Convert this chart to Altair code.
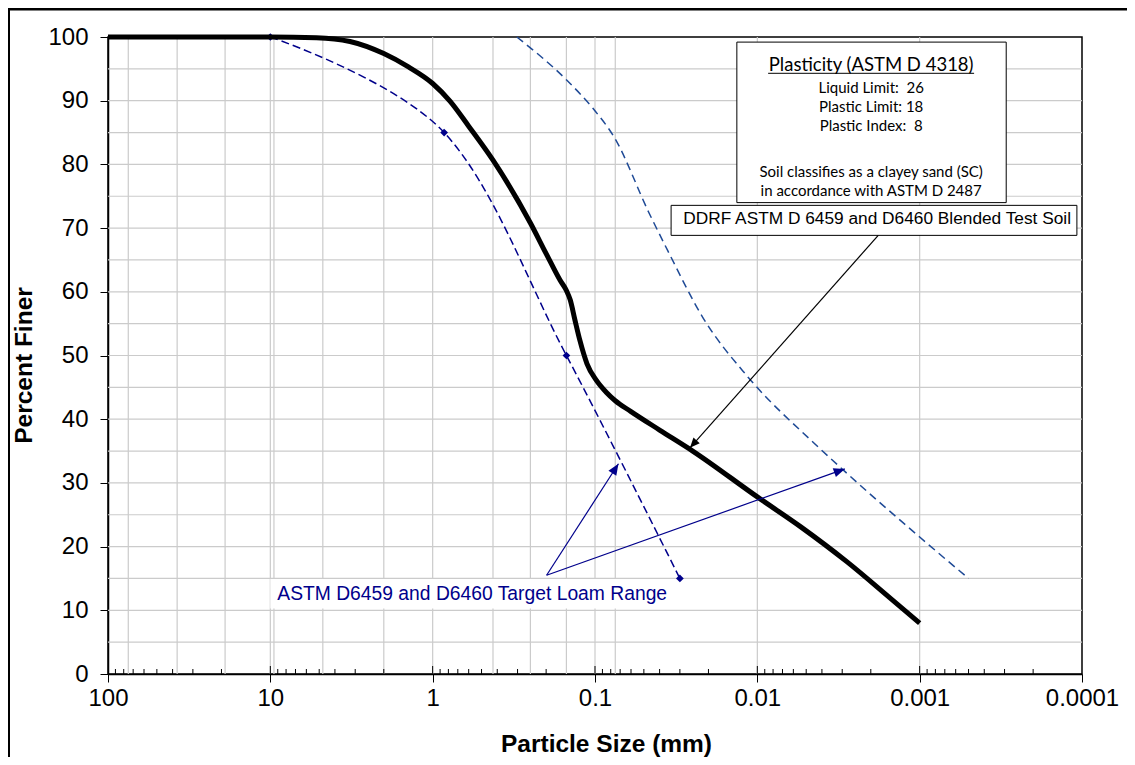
import math
import altair as alt
import pandas as pd

# ---------------- data ----------------
# Blended test soil gradation (particle size mm, percent finer)
BLEND_SIZE = [100, 10, 5.2, 3.23, 2.0, 1.41, 1.0, 0.78, 0.6, 0.426, 0.25, 0.2,
              0.164, 0.15, 0.142, 0.133, 0.124, 0.112, 0.098, 0.085, 0.075, 0.06,
              0.04, 0.025, 0.01, 0.0054, 0.0028, 0.0015, 0.001]
BLEND_PCT = [100, 100, 99.9, 99.3, 97.4, 95.3, 92.7, 89.9, 86.0, 80.7, 70.8, 66.0,
             61.8, 60.2, 58.7, 55.6, 52.4, 48.7, 46.1, 44.2, 42.9, 41.2,
             38.3, 35.0, 27.8, 23.1, 17.6, 11.8, 8.0]

# Target loam range - lower bound (with markers)
LOWER_SIZE = [10, 0.85, 0.15, 0.03]
LOWER_PCT = [100, 85, 50, 15]

# Target loam range - upper bound
UPPER_SIZE = [0.303, 0.149, 0.103, 0.0763, 0.0463, 0.0357, 0.0217, 0.0114,
              0.0045, 0.00295, 0.001, 0.0005]
UPPER_PCT = [100, 93.2, 88.8, 84.3, 72.3, 66.5, 56.0, 46.6,
             36.3, 32.0, 21.5, 15.0]

# Axes
X_TICKS = [100, 10, 1, 0.1, 0.01, 0.001, 0.0001]
Y_TICKS = [0, 10, 20, 30, 40, 50, 60, 70, 80, 90, 100]
X_MINOR = [m * 10 ** e for e in range(-4, 2) for m in range(2, 10)]
X_INNER_MAJOR = [10, 1, 0.1, 0.01, 0.001]
GRID_SIZES = [75, 37.5, 19, 10, 9.5, 4.75, 2.0, 1, 0.425, 0.25, 0.15, 0.1,
              0.075, 0.01, 0.001]
GRID_PCT = [5, 10, 15, 20, 25, 30, 35, 40, 45, 50, 55, 60, 65, 70, 75, 80, 85, 90, 95]

# Annotation texts
NB = "\u00a0"
PLAST_TITLE = "Plasticity (ASTM D 4318)"
PLAST_LINES = ["Liquid Limit:" + NB + " 26", "Plastic Limit: 18",
               "Plastic Index:" + NB + " 8",
               "Soil classifies as a clayey sand (SC)",
               "in accordance with ASTM D 2487"]
BLEND_LABEL = "DDRF ASTM D 6459 and D6460 Blended Test Soil"
RANGE_LABEL = "ASTM D6459 and D6460 Target Loam Range"

# ---------------- layout / style ----------------
W, H = 974, 637
GRID = "#cbcbcb"
NAVY = "#00008b"
UPPER_BLUE = "#1f4a96"
ARIAL = "Liberation Sans"
CALIBRI = "Lato"

xs = alt.Scale(type="log", domain=[0.0001, 100], reverse=True, nice=False)
ys = alt.Scale(domain=[0, 100], nice=False)

x_axis = alt.Axis(values=X_TICKS, labelExpr="format(datum.value, '~g')",
                  grid=False, tickSize=8, tickColor="black", tickWidth=1,
                  domainColor="black", domainWidth=1.5, labelFont=ARIAL,
                  labelFontSize=24, labelColor="black", labelPadding=4,
                  labelOverlap=False, labelFlush=False,
                  title="Particle Size (mm)", titleFont=ARIAL, titleFontSize=24.5,
                  titleFontWeight="bold", titleColor="black", titleX=498,
                  titleY=70, titleAlign="center", titleBaseline="middle")
y_axis = alt.Axis(values=Y_TICKS, grid=False, tickSize=8, tickColor="black",
                  tickWidth=1, domainColor="black", domainWidth=1.5,
                  labelFont=ARIAL, labelFontSize=24, labelColor="black",
                  labelPadding=12, labelOverlap=False, labelFlush=False,
                  title="Percent Finer", titleFont=ARIAL, titleFontSize=24.5,
                  titleFontWeight="bold", titleColor="black", titleX=-84,
                  titleY=328, titleAngle=270, titleAlign="center",
                  titleBaseline="middle")


def X(field="size"):
    return alt.X(f"{field}:Q", scale=xs, axis=x_axis)


def Y(field="pct"):
    return alt.Y(f"{field}:Q", scale=ys, axis=y_axis)


def px(s):
    return (2 - math.log10(s)) / 6 * W


def py(p):
    return H * (1 - p / 100)


def head_angle(s0, p0, s1, p1):
    dx = px(s1) - px(s0)
    dy = py(p1) - py(p0)
    return (math.degrees(math.atan2(dx, -dy)) + 360) % 360


# gridlines
hgrid = alt.Chart(pd.DataFrame({"pct": GRID_PCT})).mark_rule(
    color=GRID, strokeWidth=1.2).encode(y=Y())
vgrid = alt.Chart(pd.DataFrame({"size": GRID_SIZES})).mark_rule(
    color=GRID, strokeWidth=1.2).encode(x=X())

# inward x ticks
minor_ticks = alt.Chart(pd.DataFrame({"size": X_MINOR})).mark_rule(
    color="black", strokeWidth=1).encode(x=X(), y=alt.value(H), y2=alt.value(H - 5))
major_ticks = alt.Chart(pd.DataFrame({"size": X_INNER_MAJOR})).mark_rule(
    color="black", strokeWidth=1).encode(x=X(), y=alt.value(H), y2=alt.value(H - 8))

# white box behind the range label
range_box = alt.Chart(pd.DataFrame({"size": [10.0], "s1": [0.0551],
                                    "pct": [14.9], "p1": [10.3]})).mark_rect(
    color="white").encode(x=X(), x2="s1", y=Y(), y2="p1")

# curves
blend_df = pd.DataFrame({"size": BLEND_SIZE, "pct": BLEND_PCT,
                         "o": list(range(len(BLEND_SIZE)))})
blend = alt.Chart(blend_df).mark_line(
    color="black", strokeWidth=5, interpolate="monotone").encode(
    x=X(), y=Y(), order="o:Q")

lower_df = pd.DataFrame({"size": LOWER_SIZE, "pct": LOWER_PCT,
                         "o": list(range(len(LOWER_SIZE)))})
lower = alt.Chart(lower_df).mark_line(
    color=NAVY, strokeWidth=1.5, strokeDash=[8, 4], interpolate="cardinal").encode(
    x=X(), y=Y(), order="o:Q")
lower_pts = alt.Chart(lower_df).mark_point(
    shape="diamond", filled=True, size=60, color=NAVY, opacity=1).encode(x=X(), y=Y())

upper_df = pd.DataFrame({"size": UPPER_SIZE, "pct": UPPER_PCT,
                         "o": list(range(len(UPPER_SIZE)))})
upper = alt.Chart(upper_df).mark_line(
    color=UPPER_BLUE, strokeWidth=1.5, strokeDash=[8, 5], interpolate="monotone").encode(
    x=X(), y=Y(), order="o:Q")

# plasticity box
plast_box = alt.Chart(pd.DataFrame({"size": [0.01337], "s1": [0.000293],
                                    "pct": [99.2], "p1": [74.0]})).mark_rect(
    fill="white", stroke="black", strokeWidth=1).encode(
    x=X(), x2="s1", y=Y(), y2="p1")
plast_title = alt.Chart(pd.DataFrame({"size": [0.00199], "pct": [94.66],
                                      "t": [PLAST_TITLE]})).mark_text(
    font=CALIBRI, fontSize=18.5, color="black", align="center",
    baseline="alphabetic").encode(x=X(), y=Y(), text="t:N")
plast_ul = alt.Chart(pd.DataFrame({"size": [0.00858], "s1": [0.000462],
                                   "pct": [94.3]})).mark_rule(
    color="black", strokeWidth=1).encode(x=X(), x2="s1", y=Y())
plast_text = alt.Chart(pd.DataFrame({"size": [0.00199] * 5,
                                     "pct": [91.21, 88.22, 85.24, 78.02, 75.03],
                                     "t": PLAST_LINES})).mark_text(
    font=CALIBRI, fontSize=15, color="black", align="center",
    baseline="alphabetic").encode(x=X(), y=Y(), text="t:N")

# blended soil label
blend_box = alt.Chart(pd.DataFrame({"size": [0.03398], "s1": [0.0001075],
                                    "pct": [73.57], "p1": [68.86]})).mark_rect(
    fill="white", stroke="black", strokeWidth=1).encode(
    x=X(), x2="s1", y=Y(), y2="p1")
blend_text = alt.Chart(pd.DataFrame({"size": [0.001828], "pct": [70.7],
                                     "t": [BLEND_LABEL]})).mark_text(
    font=ARIAL, fontSize=17.3, color="black", align="center",
    baseline="alphabetic").encode(x=X(), y=Y(), text="t:N")

# arrows
ARROWS = [  # start size, start pct, tip size, tip pct, colour
    (0.0018, 68.86, 0.026, 35.5, "black"),
    (0.1987, 15.5, 0.0717, 33.0, NAVY),
    (0.1987, 15.5, 0.00289, 32.2, NAVY),
]
arrow_df = pd.DataFrame({
    "size": [a[0] for a in ARROWS], "pct": [a[1] for a in ARROWS],
    "s1": [a[2] for a in ARROWS], "p1": [a[3] for a in ARROWS],
    "c": [a[4] for a in ARROWS],
    "ang": [head_angle(a[0], a[1], a[2], a[3]) for a in ARROWS],
    "sz": [400, 500, 500],
})
arrow_lines = alt.Chart(arrow_df).mark_rule(strokeWidth=1.2).encode(
    x=X(), x2="s1", y=Y(), y2="p1",
    color=alt.Color("c:N", scale=None))
arrow_heads = alt.Chart(arrow_df).mark_point(
    shape="M0,0L0.42,1L-0.42,1Z", filled=True, opacity=1, strokeWidth=0).encode(
    x=X("s1"), y=Y("p1"), angle=alt.Angle("ang:Q", scale=None),
    color=alt.Color("c:N", scale=None), size=alt.Size("sz:Q", scale=None))

range_text = alt.Chart(pd.DataFrame({"size": [0.571], "pct": [11.54],
                                     "t": [RANGE_LABEL]})).mark_text(
    font=ARIAL, fontSize=19.3, color=NAVY, align="center",
    baseline="alphabetic").encode(x=X(), y=Y(), text="t:N")

# page frame fragments (left rule and top bar)
frame_left = alt.Chart(pd.DataFrame({"k": [0]})).mark_rule(
    color="black", strokeWidth=2).encode(
    x=alt.value(-99), y=alt.value(-29), y2=alt.value(H + 100))
frame_top = alt.Chart(pd.DataFrame({"k": [0]})).mark_rule(
    color="black", strokeWidth=3).encode(
    x=alt.value(-100), x2=alt.value(W + 45), y=alt.value(-28))

chart = alt.layer(
    hgrid, vgrid, range_box, minor_ticks, major_ticks,
    upper, lower, lower_pts, blend,
    plast_box, plast_ul, plast_title, plast_text,
    blend_box, blend_text, arrow_lines, arrow_heads, range_text,
    frame_left, frame_top,
).properties(
    width=W, height=H,
    padding={"left": 100, "top": 29, "right": 45, "bottom": 83},
    autosize=alt.AutoSizeParams(type="none"),
).configure_view(stroke="black", strokeWidth=1.5)

chart.save("out.html", embed_options={"renderer": "svg", "actions": False})
